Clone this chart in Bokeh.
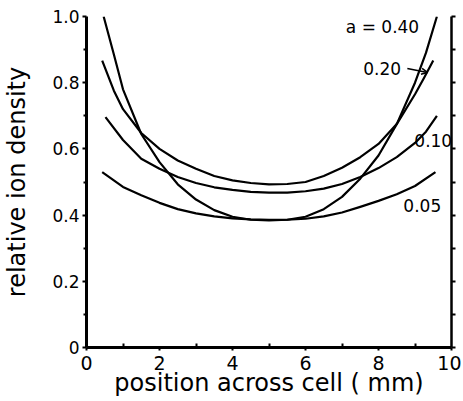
from bokeh.plotting import figure
from bokeh.models import (Range1d, LinearAxis, FixedTicker, CustomJSTickFormatter,
                          Arrow, OpenHead, ColumnDataSource)
from bokeh.core.properties import value
from bokeh.embed import file_html
from bokeh.resources import INLINE

# ---- data ----
x_a40 = [0.47, 0.75, 1.0, 1.5, 2.0, 2.5, 3.0, 3.5, 4.0, 4.5, 5.0, 5.5, 6.0, 6.5, 7.0, 7.5, 8.0, 8.5, 9.0, 9.3, 9.6]
y_a40 = [1.0, 0.885, 0.78, 0.645, 0.56, 0.493, 0.447, 0.415, 0.395, 0.386, 0.384, 0.386, 0.395, 0.418, 0.455, 0.51, 0.58, 0.675, 0.80, 0.89, 1.0]

x_a20 = [0.43, 0.75, 1.0, 1.5, 2.0, 2.5, 3.0, 3.5, 4.0, 4.5, 5.0, 5.5, 6.0, 6.5, 7.0, 7.5, 8.0, 8.5, 9.0, 9.25, 9.5]
y_a20 = [0.867, 0.776, 0.72, 0.648, 0.60, 0.565, 0.54, 0.518, 0.505, 0.497, 0.493, 0.494, 0.50, 0.518, 0.543, 0.575, 0.615, 0.675, 0.765, 0.815, 0.867]

x_a10 = [0.52, 1.0, 1.5, 2.0, 2.5, 3.0, 3.5, 4.0, 4.5, 5.0, 5.5, 6.0, 6.5, 7.0, 7.5, 8.0, 8.5, 9.0, 9.3, 9.6]
y_a10 = [0.696, 0.627, 0.57, 0.54, 0.515, 0.497, 0.484, 0.476, 0.47, 0.468, 0.468, 0.472, 0.48, 0.494, 0.515, 0.542, 0.575, 0.618, 0.652, 0.70]

x_a05 = [0.43, 1.0, 1.5, 2.0, 2.5, 3.0, 3.5, 4.0, 4.5, 5.0, 5.5, 6.0, 6.5, 7.0, 7.5, 8.0, 8.5, 9.0, 9.56]
y_a05 = [0.53, 0.485, 0.46, 0.437, 0.418, 0.405, 0.396, 0.39, 0.387, 0.386, 0.386, 0.389, 0.396, 0.408, 0.425, 0.443, 0.463, 0.488, 0.53]

curve_labels = ["a = 0.40", "0.20", "0.10", "0.05"]
label_x = [8.11, 8.1, 9.5, 9.2]
label_y = [0.967, 0.843, 0.625, 0.429]

x_ticks = [0, 2, 4, 6, 8, 10]
x_minor = [1, 3, 5, 7, 9]
y_ticks = [0, 0.2, 0.4, 0.6, 0.8, 1.0]
y_minor = [0.1, 0.3, 0.5, 0.7, 0.9]
y_right_ticks = [0, 0.1, 0.2, 0.3, 0.4, 0.5, 0.6, 0.7, 0.8, 0.9, 1.0]

FONT = "DejaVu Sans"

p = figure(frame_width=365, frame_height=331, output_backend="svg", toolbar_location=None,
           x_range=Range1d(0, 10), y_range=Range1d(0, 1.0),
           min_border_left=86, min_border_right=10, min_border_top=16, min_border_bottom=10,
           x_axis_label="position across cell ( mm)", y_axis_label="relative ion density")
p.grid.visible = False
p.outline_line_color = None
p.background_fill_color = "white"
p.border_fill_color = "white"

for xs, ys in [(x_a40, y_a40), (x_a20, y_a20), (x_a10, y_a10), (x_a05, y_a05)]:
    p.line(xs, ys, line_color="black", line_width=2.2, line_join="round")

# axes
xa = p.xaxis[0]
xa.ticker = FixedTicker(ticks=x_ticks, minor_ticks=x_minor)
xa.axis_line_width = 3
xa.major_tick_in = 0
xa.major_tick_out = 3
xa.minor_tick_in = 4
xa.minor_tick_out = 0
xa.major_tick_line_width = 2
xa.minor_tick_line_width = 2
xa.major_label_text_font = FONT
xa.major_label_text_font_size = "19px"
xa.major_label_text_color = "black"
xa.major_label_standoff = 5
xa.axis_label_text_font = FONT
xa.axis_label_text_font_size = "24px"
xa.axis_label_text_font_style = "normal"
xa.axis_label_text_color = "black"
xa.axis_label_standoff = -4

ya = p.yaxis[0]
ya.ticker = FixedTicker(ticks=y_ticks, minor_ticks=y_minor)
ya.formatter = CustomJSTickFormatter(code="return tick == 0 ? '0' : tick.toFixed(1);")
ya.axis_line_width = 3
ya.major_tick_in = 0
ya.major_tick_out = 4
ya.minor_tick_in = 0
ya.minor_tick_out = 3
ya.major_tick_line_width = 2
ya.minor_tick_line_width = 2
ya.major_label_text_font = FONT
ya.major_label_text_font_size = "17px"
ya.major_label_text_color = "black"
ya.major_label_standoff = 3
ya.axis_label_text_font = FONT
ya.axis_label_text_font_size = "24px"
ya.axis_label_text_font_style = "normal"
ya.axis_label_text_color = "black"
ya.axis_label_standoff = 18

ra = LinearAxis(ticker=FixedTicker(ticks=y_right_ticks, minor_ticks=[]))
ra.formatter = CustomJSTickFormatter(code="return '';")
ra.axis_line_width = 2.5
ra.major_tick_in = 0
ra.major_tick_out = 4
ra.major_tick_line_width = 2
ra.minor_tick_out = 0
p.add_layout(ra, "right")

# curve labels
src = ColumnDataSource(dict(x=label_x, y=label_y, t=curve_labels))
p.text(x="x", y="y", text="t", source=src, text_font=value(FONT), text_font_size="17px",
       text_align="center", text_baseline="middle", text_color="black")

# arrow to the 0.20 curve
p.add_layout(Arrow(end=OpenHead(size=6, line_width=1.5), x_start=8.79, y_start=0.843,
                   x_end=9.34, y_end=0.831, line_width=1.5))

open("out.html", "w").write(file_html(p, INLINE))
